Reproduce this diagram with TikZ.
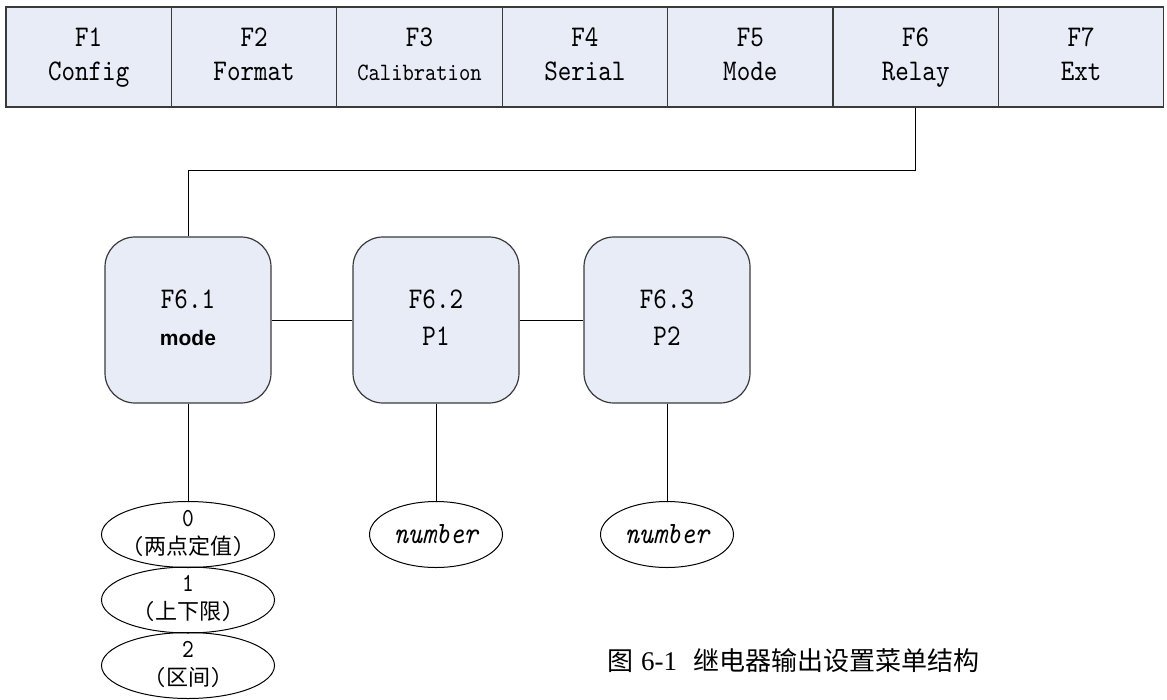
\documentclass[tikz,border=0pt]{standalone}
\usepackage{fontspec}
\usetikzlibrary{shapes.geometric}
\newfontfamily\mono{lmmono10-regular}[Extension=.otf, ItalicFont=lmmono10-italic, FakeStretch=0.86]
\newfontfamily\cjk{Noto Sans CJK SC}
\newfontfamily\sansb{Liberation Sans}
\newfontfamily\serif{Liberation Serif}
\definecolor{boxfill}{HTML}{E8ECF7}
\definecolor{boxline}{HTML}{3A3A3A}
\begin{document}
\begin{tikzpicture}[x=1pt,y=-1pt,
  cell/.style={draw=boxline, line width=1.2pt, fill=boxfill, minimum width=165.4pt, minimum height=100pt, inner sep=0pt, align=center, font=\mono\fontsize{30}{34}\selectfont},
  menubox/.style={draw=boxline, line width=1.2pt, fill=boxfill, rounded corners=30pt, minimum width=166pt, minimum height=166pt, inner sep=0pt, align=center, font=\mono\fontsize{30}{37}\selectfont},
  optell/.style={draw=black, line width=1pt, ellipse, minimum width=173pt, minimum height=66pt, inner sep=0pt},
  optlab/.style={inner sep=0pt, align=center, font=\mono\fontsize{26}{28}\selectfont},
  numell/.style={draw=black, line width=1pt, ellipse, minimum width=133pt, minimum height=66pt, inner sep=0pt, font=\mono\itshape\fontsize{31}{31}\selectfont},
  link/.style={draw=black, line width=1pt}]
\useasboundingbox (0,0) rectangle (1167,699);

% top menu bar
\node[cell] (c1) at (88.7,57)   {F1\strut\\Config\strut};
\node[cell] (c2) at (254.1,57)  {F2\strut\\Format\strut};
\node[cell] (c3) at (419.5,57)  {F3\strut\\{\fontsize{25}{34}\selectfont Calibration}\strut};
\node[cell] (c4) at (584.9,57)  {F4\strut\\Serial\strut};
\node[cell] (c5) at (750.3,57)  {F5\strut\\Mode\strut};
\node[cell] (c6) at (915.7,57)  {F6\strut\\Relay\strut};
\node[cell] (c7) at (1081.1,57) {F7\strut\\Ext\strut};

% sub-menu boxes
\node[menubox] (b1) at (188,320) {F6.1\strut\\{\sansb\bfseries\fontsize{21}{37}\selectfont mode}\strut};
\node[menubox] (b2) at (436,320) {F6.2\strut\\P1\strut};
\node[menubox] (b3) at (667,320) {F6.3\strut\\P2\strut};

% option ellipses
\node[optell, label={[optlab]center:{0\strut\\({\cjk\fontsize{22}{28}\selectfont 两点定值})\strut}}] (o0) at (188,534.5) {};
\node[optell, label={[optlab]center:{1\strut\\({\cjk\fontsize{22}{28}\selectfont 上下限})\strut}}] (o1) at (188,600) {};
\node[optell, label={[optlab]center:{2\strut\\({\cjk\fontsize{22}{28}\selectfont 区间})\strut}}] (o2) at (188,665.5) {};
\node[numell] (n1) at (436,534.5) {number};
\node[numell] (n2) at (667,534.5) {number};

% connectors
\coordinate (j) at (188,170);
\draw[link] (c6.south) |- (j) -- (b1.north);
\draw[link] (b1.east) -- (b2.west);
\draw[link] (b2.east) -- (b3.west);
\draw[link] (b1.south) -- (o0.north);
\draw[link] (b2.south) -- (n1.north);
\draw[link] (b3.south) -- (n2.north);

% caption
\node[anchor=west, inner sep=0pt, font=\cjk\fontsize{26}{26}\selectfont] (cap) at (607,661)
  {图\hspace{8pt}{\serif\fontsize{27}{27}\selectfont 6-1}\hspace{16pt}继电器输出设置菜单结构};
\end{tikzpicture}
\end{document}
